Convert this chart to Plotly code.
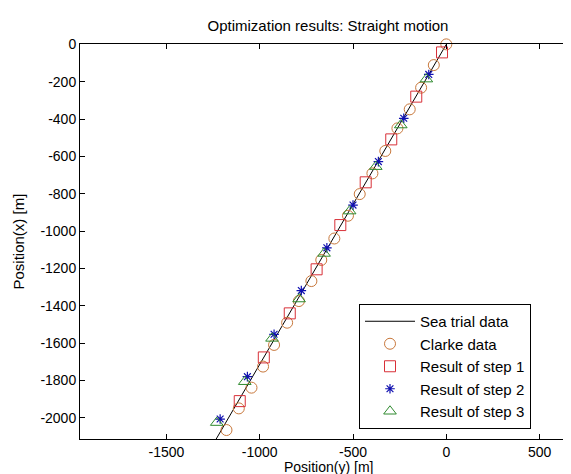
import plotly.graph_objects as go

# Sea trial data (line)
sea_x = [0, -292, -583, -875, -1166, -1260]
sea_y = [0, -500, -1000, -1500, -2000, -2160]

# Clarke data (circles)
clarke_x = [0, -67, -135, -196, -262, -327, -396, -464, -527, -600, -670, -723, -790, -853, -923, -982, -1044, -1112, -1178]
clarke_y = [0, -111, -232, -348, -450, -571, -691, -802, -918, -1040, -1155, -1268, -1375, -1491, -1610, -1726, -1839, -1950, -2066]

# Result of step 1 (squares)
step1_x = [-23, -161, -295, -432, -568, -695, -839, -978, -1107]
step1_y = [-43, -280, -509, -739, -968, -1205, -1441, -1677, -1911]

# Result of step 2 (stars)
step2_x = [-94, -228, -364, -500, -640, -777, -923, -1066, -1212]
step2_y = [-161, -396, -628, -861, -1090, -1319, -1553, -1780, -2007]

# Result of step 3 (triangles)
step3_x = [-107, -244, -378, -518, -655, -789, -934, -1080, -1230]
step3_y = [-186, -432, -655, -893, -1120, -1364, -1575, -1807, -2026]

x_ticks = [-1500, -1000, -500, 0, 500]
y_ticks = [0, -200, -400, -600, -800, -1000, -1200, -1400, -1600, -1800, -2000]

FONT = "Liberation Sans, Arial, sans-serif"
TXT = 15
TICK = 14

fig = go.Figure()
fig.add_trace(go.Scatter(x=sea_x, y=sea_y, mode="lines", name="Sea trial data",
                         line=dict(color="black", width=1)))
fig.add_trace(go.Scatter(x=clarke_x, y=clarke_y, mode="markers", name="Clarke data", cliponaxis=False,
                         marker=dict(symbol="circle-open", size=11, color="#C8783C",
                                     line=dict(width=1, color="#C8783C"))))
fig.add_trace(go.Scatter(x=step1_x, y=step1_y, mode="markers", name="Result of step 1", cliponaxis=False,
                         marker=dict(symbol="square-open", size=11, color="#D83038",
                                     line=dict(width=1, color="#D83038"))))
fig.add_trace(go.Scatter(x=step2_x, y=step2_y, mode="markers", name="Result of step 2", cliponaxis=False,
                         marker=dict(symbol="asterisk-open", size=8, color="#1010B0",
                                     line=dict(width=1.2, color="#1010B0"))))
fig.add_trace(go.Scatter(x=step3_x, y=step3_y, mode="markers", name="Result of step 3", cliponaxis=False,
                         marker=dict(symbol="triangle-up-open", size=11, color="#2E8A2E",
                                     line=dict(width=1, color="#2E8A2E"))))

axis_common = dict(showgrid=False, zeroline=False, showline=True, linecolor="black",
                   linewidth=1, mirror="ticks", ticks="inside", ticklen=5,
                   tickcolor="black", tickfont=dict(family=FONT, size=TICK, color="black"))

fig.update_layout(
    width=571, height=474,
    margin=dict(l=72, r=3, t=36, b=43),
    paper_bgcolor="white", plot_bgcolor="white",
    font=dict(family=FONT, size=TXT, color="black"),
    title=dict(text="Optimization results: Straight motion", x=(72 + 568) / 2 / 571,
               xanchor="center", y=1 - 18 / 474, yanchor="middle",
               font=dict(family=FONT, size=TXT, color="black")),
    xaxis=dict(range=[-1963, 695], tickvals=x_ticks, ticktext=[str(v) for v in x_ticks],
               **axis_common),
    yaxis=dict(range=[-2114, 2], tickvals=y_ticks, ticktext=[str(v) for v in y_ticks],
               **axis_common),
    legend=dict(x=(523 - 72) / 496, xanchor="right", y=(431 - 421) / 395, yanchor="bottom",
                bgcolor="white", bordercolor="black", borderwidth=1,
                font=dict(family=FONT, size=TXT, color="black"),
                tracegroupgap=0, itemwidth=50),
    showlegend=True,
)

fig.add_annotation(text="Position(y) [m]", xref="paper", yref="paper",
                   x=0.5, y=0, yshift=-37, xanchor="center", yanchor="bottom",
                   showarrow=False, borderpad=0,
                   font=dict(family=FONT, size=14, color="black"))
fig.add_annotation(text="Position(x) [m]", textangle=-90, xref="paper", yref="paper",
                   x=(10 - 72) / 496, y=0.5, xanchor="center", yanchor="middle",
                   showarrow=False, font=dict(family=FONT, size=TXT, color="black"))

fig.write_html("out.html")
